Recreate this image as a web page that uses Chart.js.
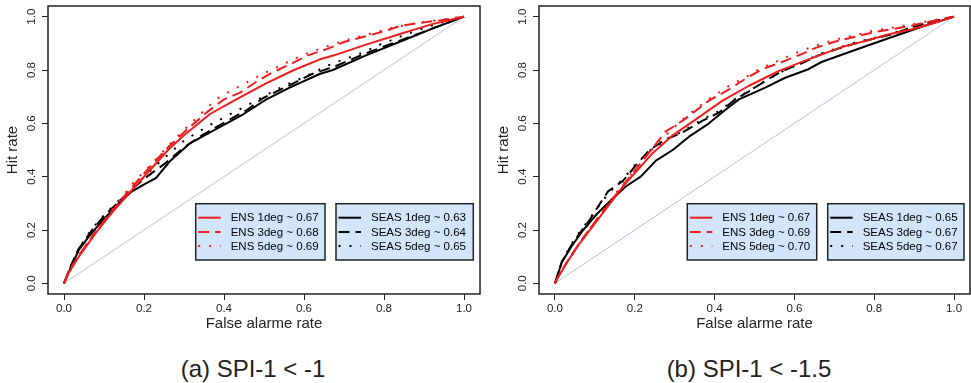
<!doctype html>
<html lang="en">
  <head>
    <meta charset="utf-8">
    <title>ROC curves SPI-1</title>
    <style>
      * {
        margin: 0;
        padding: 0;
      }
      body {
        width: 971px;
        height: 383px;
        background: #ffffff;
        position: relative;
        overflow: hidden;
        font-family: 'Liberation Sans', Arial, sans-serif;
      }
      .panel {
        position: absolute;
        top: 0;
      }
      .caption {
        position: absolute;
        top: 355px;
        width: 300px;
        line-height: 28px;
        font-size: 24px;
        text-align: center;
        color: #222;
      }
    </style>
  </head>
  <body>
    <div class="panel" style="left:0px"><canvas id="rocA" width="485" height="340"></canvas></div>
    <div class="panel" style="left:491px"><canvas id="rocB" width="480" height="340"></canvas></div>
    <div class="caption" style="left:103px">(a) SPI-1 &lt; -1</div>
    <div class="caption" style="left:599px">(b) SPI-1 &lt; -1.5</div>

    <script src="https://cdn.jsdelivr.net/npm/chart.js"></script>
    <script>
    // axis ticks
    const rateTicks = [0, 0.2, 0.4, 0.6, 0.8, 1.0];

    // series names and their ROC scores per threshold
    const seriesNames = ['ENS 1deg', 'ENS 3deg', 'ENS 5deg', 'SEAS 1deg', 'SEAS 3deg', 'SEAS 5deg'];
    const scoresA = [0.67, 0.68, 0.69, 0.63, 0.64, 0.65];
    const scoresB = [0.67, 0.69, 0.70, 0.65, 0.67, 0.67];

    // (a) SPI-1 < -1 : [false alarm rate, hit rate]
    const ensA1 = [[0,0],[0.012,0.04],[0.037,0.10],[0.08,0.19],[0.12,0.265],[0.17,0.35],[0.215,0.425],[0.26,0.5],[0.30,0.555],[0.365,0.635],[0.425,0.685],[0.505,0.75],[0.575,0.80],[0.64,0.84],[0.675,0.855],[0.755,0.895],[0.84,0.935],[0.92,0.972],[1,1]];
    const ensA3 = [[0,0],[0.012,0.045],[0.037,0.105],[0.08,0.195],[0.13,0.29],[0.178,0.375],[0.22,0.445],[0.26,0.51],[0.31,0.58],[0.36,0.645],[0.40,0.69],[0.44,0.715],[0.48,0.755],[0.52,0.79],[0.57,0.825],[0.61,0.855],[0.66,0.88],[0.70,0.905],[0.75,0.925],[0.80,0.945],[0.84,0.965],[0.89,0.977],[0.94,0.986],[1,1]];
    const ensA5 = [[0,0],[0.012,0.045],[0.037,0.105],[0.08,0.2],[0.13,0.295],[0.175,0.38],[0.22,0.45],[0.27,0.53],[0.31,0.59],[0.345,0.64],[0.38,0.69],[0.42,0.725],[0.465,0.76],[0.51,0.795],[0.555,0.827],[0.60,0.858],[0.65,0.885],[0.70,0.91],[0.75,0.93],[0.80,0.95],[0.85,0.968],[0.90,0.98],[0.95,0.99],[1,1]];
    const seasA1 = [[0,0],[0.017,0.06],[0.037,0.125],[0.062,0.175],[0.096,0.235],[0.137,0.30],[0.17,0.345],[0.205,0.375],[0.23,0.395],[0.266,0.46],[0.315,0.525],[0.38,0.578],[0.448,0.634],[0.506,0.69],[0.564,0.734],[0.639,0.785],[0.672,0.80],[0.755,0.855],[0.838,0.905],[0.921,0.955],[1,1]];
    const seasA3 = [[0,0],[0.017,0.065],[0.037,0.13],[0.07,0.2],[0.104,0.258],[0.14,0.31],[0.175,0.36],[0.212,0.405],[0.253,0.45],[0.30,0.51],[0.35,0.56],[0.415,0.615],[0.457,0.65],[0.498,0.695],[0.56,0.74],[0.62,0.785],[0.68,0.815],[0.75,0.86],[0.83,0.905],[0.92,0.955],[1,1]];
    const seasA5 = [[0,0],[0.017,0.065],[0.037,0.13],[0.07,0.205],[0.104,0.262],[0.14,0.315],[0.18,0.37],[0.232,0.445],[0.30,0.535],[0.36,0.59],[0.41,0.63],[0.461,0.67],[0.523,0.72],[0.564,0.75],[0.606,0.777],[0.656,0.815],[0.70,0.84],[0.747,0.865],[0.793,0.897],[0.84,0.925],[0.884,0.949],[0.93,0.972],[1,1]];

    // (b) SPI-1 < -1.5
    const ensB1 = [[0,0],[0.005,0.015],[0.03,0.078],[0.063,0.152],[0.105,0.234],[0.146,0.315],[0.171,0.365],[0.204,0.42],[0.246,0.49],[0.295,0.555],[0.353,0.615],[0.42,0.685],[0.485,0.74],[0.56,0.796],[0.635,0.84],[0.718,0.886],[0.784,0.911],[0.834,0.933],[0.90,0.955],[0.958,0.98],[1,1]];
    const ensB3 = [[0,0],[0.005,0.017],[0.03,0.08],[0.063,0.155],[0.105,0.24],[0.146,0.32],[0.18,0.385],[0.22,0.46],[0.278,0.57],[0.32,0.61],[0.386,0.685],[0.436,0.727],[0.48,0.77],[0.523,0.805],[0.564,0.827],[0.614,0.857],[0.655,0.884],[0.705,0.908],[0.75,0.924],[0.80,0.942],[0.849,0.954],[0.895,0.967],[0.94,0.982],[1,1]];
    const ensB5 = [[0,0],[0.005,0.017],[0.03,0.08],[0.063,0.155],[0.105,0.24],[0.146,0.325],[0.18,0.39],[0.22,0.465],[0.27,0.545],[0.32,0.615],[0.38,0.685],[0.43,0.735],[0.48,0.775],[0.52,0.81],[0.56,0.835],[0.60,0.862],[0.65,0.89],[0.70,0.913],[0.75,0.93],[0.80,0.948],[0.85,0.96],[0.90,0.973],[0.95,0.987],[1,1]];
    const seasB1 = [[0,0],[0.017,0.078],[0.042,0.14],[0.071,0.2],[0.105,0.26],[0.146,0.32],[0.179,0.365],[0.215,0.40],[0.253,0.46],[0.295,0.5],[0.336,0.55],[0.386,0.6],[0.428,0.652],[0.461,0.69],[0.527,0.734],[0.577,0.771],[0.635,0.803],[0.668,0.83],[0.75,0.874],[0.834,0.918],[0.917,0.961],[1,1]];
    const seasB3 = [[0,0],[0.017,0.08],[0.04,0.14],[0.063,0.19],[0.088,0.24],[0.109,0.29],[0.133,0.345],[0.171,0.385],[0.204,0.445],[0.237,0.5],[0.278,0.54],[0.319,0.565],[0.369,0.609],[0.411,0.64],[0.452,0.69],[0.486,0.72],[0.527,0.759],[0.569,0.796],[0.618,0.825],[0.66,0.855],[0.71,0.88],[0.751,0.899],[0.80,0.918],[0.85,0.936],[0.896,0.961],[0.942,0.98],[1,1]];
    const seasB5 = [[0,0],[0.017,0.08],[0.04,0.145],[0.063,0.195],[0.088,0.245],[0.11,0.29],[0.135,0.34],[0.17,0.39],[0.204,0.45],[0.24,0.5],[0.28,0.54],[0.32,0.57],[0.37,0.615],[0.41,0.645],[0.45,0.69],[0.49,0.725],[0.53,0.762],[0.57,0.795],[0.62,0.828],[0.66,0.858],[0.71,0.883],[0.75,0.902],[0.80,0.92],[0.85,0.94],[0.90,0.962],[0.95,0.982],[1,1]];

    const noSkill = [[0,0],[1,1]];

    const RED = '#ee1d1d';
    const INK = '#222222';
    const lineColors = [RED, RED, RED, 'black', 'black', 'black'];
    const lineDashes = [[], [11, 6], [2, 9], [], [11, 6], [2, 9]];

    function toXY(pts) {
      return pts.map(p => ({x: p[0], y: p[1]}));
    }

    // frame, rotated y labels
    const framePlugin = {
      id: 'frame',
      afterDraw(chart) {
        const {ctx, chartArea: a} = chart;
        const ys = chart.scales.y;
        ctx.save();
        ctx.strokeStyle = INK;
        ctx.lineWidth = 1.5;
        ctx.strokeRect(a.left, a.top, a.right - a.left, a.bottom - a.top);
        ctx.fillStyle = INK;
        ctx.font = '11.5px "Liberation Sans", Arial';
        ctx.textAlign = 'center';
        ctx.textBaseline = 'middle';
        rateTicks.forEach(v => {
          ctx.save();
          ctx.translate(a.left - 16, ys.getPixelForValue(v));
          ctx.rotate(-Math.PI / 2);
          ctx.fillText(v.toFixed(1), 0, 0);
          ctx.restore();
        });
        ctx.restore();
      }
    };

    // two boxed legends, ENS and SEAS
    const boxLegend = {
      id: 'boxLegend',
      afterDraw(chart, args, opts) {
        const {ctx, chartArea: a} = chart;
        const sets = chart.data.datasets.filter(d => d.inLegend);
        const groups = [sets.slice(0, 3), sets.slice(3, 6)];
        const top = a.top + 197.7;
        const h = 56.3;
        ctx.save();
        groups.forEach((grp, gi) => {
          const left = a.left + opts.boxes[gi][0];
          const w = opts.boxes[gi][1];
          ctx.fillStyle = '#d2e5fb';
          ctx.fillRect(left, top, w, h);
          ctx.strokeStyle = INK;
          ctx.lineWidth = 1.5;
          ctx.setLineDash([]);
          ctx.strokeRect(left, top, w, h);
          grp.forEach((ds, i) => {
            const y = top + 14 + i * 14.2;
            ctx.strokeStyle = ds.borderColor;
            ctx.lineWidth = 2;
            ctx.setLineDash(ds.borderDash);
            ctx.beginPath();
            ctx.moveTo(left + 2.5, y);
            ctx.lineTo(left + 25, y);
            ctx.stroke();
            ctx.setLineDash([]);
            ctx.fillStyle = 'black';
            ctx.font = '11.5px "Liberation Sans", Arial';
            ctx.textBaseline = 'middle';
            ctx.textAlign = 'left';
            ctx.fillText(ds.label, left + 35, y + 0.5);
          });
        });
        ctx.restore();
      }
    };

    function makeRoc(id, curves, scores, padRight, boxes) {
      const datasets = curves.map((c, i) => ({
        label: seriesNames[i] + ' ~ ' + scores[i].toFixed(2),
        data: toXY(c),
        borderColor: lineColors[i],
        borderDash: lineDashes[i],
        borderWidth: 2,
        inLegend: true
      }));
      datasets.push({
        label: 'no skill',
        data: toXY(noSkill),
        borderColor: '#b3c5df',
        borderDash: [],
        borderWidth: 1,
        inLegend: false
      });

      return new Chart(document.getElementById(id), {
        type: 'scatter',
        data: {datasets},
        options: {
          responsive: false,
          animation: false,
          devicePixelRatio: 1,
          showLine: true,
          elements: {
            point: {radius: 0, hoverRadius: 0},
            line: {tension: 0, borderCapStyle: 'butt', borderJoinStyle: 'round'}
          },
          layout: {padding: {left: 0, top: 6, right: padRight, bottom: 0}},
          scales: {
            x: {
              type: 'linear',
              min: -0.04,
              max: 1.04,
              afterBuildTicks(axis) {
                axis.ticks = rateTicks.map(v => ({value: v}));
              },
              afterFit(axis) { axis.height = 46; },
              grid: {drawOnChartArea: false, drawTicks: true, tickLength: 6, color: INK, lineWidth: 1},
              border: {display: false},
              ticks: {
                color: INK,
                padding: 2,
                maxRotation: 0,
                font: {family: '"Liberation Sans", Arial', size: 11.5},
                callback: v => v.toFixed(1)
              },
              title: {
                display: true,
                text: 'False alarme rate',
                color: INK,
                font: {family: '"Liberation Sans", Arial', size: 15},
                padding: {top: 0, bottom: 7}
              }
            },
            y: {
              type: 'linear',
              min: -0.04,
              max: 1.04,
              afterBuildTicks(axis) {
                axis.ticks = rateTicks.map(v => ({value: v}));
              },
              afterFit(axis) { axis.width = 48; },
              grid: {drawOnChartArea: false, drawTicks: true, tickLength: 6, color: INK, lineWidth: 1},
              border: {display: false},
              ticks: {display: false},
              title: {
                display: true,
                text: 'Hit rate',
                color: INK,
                font: {family: '"Liberation Sans", Arial', size: 15},
                padding: {top: 4, bottom: 0}
              }
            }
          },
          plugins: {
            legend: {display: false},
            tooltip: {enabled: false},
            boxLegend: {boxes: boxes}
          }
        },
        plugins: [framePlugin, boxLegend]
      });
    }

    makeRoc('rocA', [ensA1, ensA3, ensA5, seasA1, seasA3, seasA5], scoresA, 5,
      [[147.7, 129.3], [288, 137.3]]);
    makeRoc('rocB', [ensB1, ensB3, ensB5, seasB1, seasB3, seasB5], scoresB, 1,
      [[148.3, 129.4], [288.7, 136.3]]);
    </script>
  </body>
</html>
